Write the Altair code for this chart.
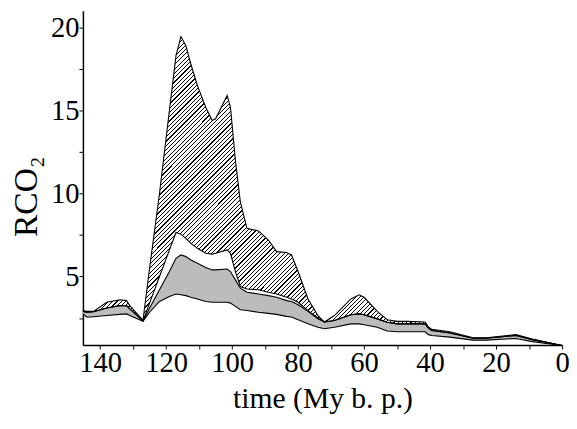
import altair as alt
import pandas as pd

# time (My b.p.)
times = [145.2, 144, 142, 138, 134, 132, 131, 127, 125, 122, 119, 117, 115.5, 114,
         112.5, 110.5, 108, 106, 105, 101.5, 100.5, 99, 97.5, 95.5, 92, 89, 86.5,
         83.5, 82, 80, 77, 74, 72, 69, 64, 61.5, 60, 56, 53, 50, 47, 41.5, 40.5,
         39.5, 34, 27, 23, 14, 9, 0]
# bottom of stippled band
base_line = [2.75, 2.55, 2.58, 2.65, 2.72, 2.75, 2.65, 2.3, 2.85, 3.5, 3.8, 3.95, 3.9, 3.85,
             3.75, 3.65, 3.5, 3.45, 3.45, 3.45, 3.4, 3.2, 3.0, 2.95, 2.85, 2.78, 2.72,
             2.6, 2.56, 2.4, 2.15, 1.95, 1.86, 1.95, 2.15, 2.15, 2.1, 1.95, 1.72, 1.67, 1.67, 1.67, 1.5,
             1.45, 1.35, 1.17, 1.17, 1.27, 1.08, 0.85]
# top of stippled band
stipple_top = [2.9, 2.85, 2.88, 3.1, 3.25, 3.25, 3.05, 2.33, 3.1, 4.2, 5.3, 6.1, 6.3, 6.2,
               6.0, 5.8, 5.55, 5.4, 5.4, 5.45, 5.3, 4.8, 4.3, 4.05, 3.95, 3.85, 3.75,
               3.55, 3.5, 3.3, 2.9, 2.45, 2.26, 2.35, 2.7, 2.75, 2.7, 2.45, 2.25, 2.15, 2.15, 2.15, 1.9,
               1.75, 1.6, 1.28, 1.28, 1.45, 1.2, 0.85]
# top of white band
white_top = [2.9, 2.85, 2.88, 3.1, 3.25, 3.25, 3.05, 2.33, 3.4, 5.0, 6.6, 7.65, 7.55, 7.3,
             7.0, 6.7, 6.4, 6.35, 6.4, 6.6, 6.4, 5.3, 4.4, 4.25, 4.2, 4.05, 3.95,
             3.75, 3.65, 3.45, 2.95, 2.5, 2.26, 2.35, 2.7, 2.75, 2.7, 2.45, 2.25, 2.15, 2.15, 2.15, 1.9,
             1.75, 1.6, 1.28, 1.28, 1.45, 1.2, 0.85]
# top of hatched band
hatch_top = [2.95, 2.9, 2.9, 3.45, 3.6, 3.55, 3.25, 2.36, 5.5, 10.0, 15.0, 18.3, 19.45, 18.9,
             17.8, 16.5, 15.2, 14.4, 14.5, 15.9, 15.2, 12.0, 9.5, 7.9, 7.75, 7.2, 6.5,
             6.45, 6.3, 5.3, 3.65, 2.65, 2.26, 2.65, 3.65, 3.9, 3.75, 2.9, 2.4, 2.3, 2.3, 2.26, 1.96,
             1.82, 1.67, 1.31, 1.31, 1.5, 1.23, 0.85]

x_ticks = list(range(0, 141, 10))
y_ticks = [2.5 * i for i in range(1, 9)]

df = pd.DataFrame({"time": times, "L0": base_line, "L1": stipple_top,
                   "L2": white_top, "L3": hatch_top})

FONT = "Liberation Serif"

x_axis = alt.Axis(values=x_ticks, labelExpr="datum.value % 20 == 0 ? datum.label : ''",
                  title="time (My b. p.)", titleFont=FONT, titleFontSize=30,
                  titleFontWeight="normal", titleColor="black", titlePadding=6,
                  labelFont=FONT, labelFontSize=29, labelColor="black", labelPadding=0,
                  labelFlush=False, labelOverlap=False, domainColor="black", domainWidth=1.5,
                  tickColor="black", tickSize=4, tickWidth=1, grid=False)
y_axis = alt.Axis(values=y_ticks, labelExpr="datum.value % 5 == 0 ? datum.label : ''",
                  title="RCO₂", titleFont=FONT, titleFontSize=34, titleY=188,
                  titleFontWeight="normal", titleColor="black", titlePadding=7,
                  labelFont=FONT, labelFontSize=29, labelColor="black", labelPadding=0,
                  labelFlush=False, labelOverlap=False, domainColor="black", domainWidth=1.5,
                  tickColor="black", tickSize=4, tickWidth=1, grid=False)

xs = alt.Scale(domain=[0, 145.2], reverse=True, nice=False, zero=False)
ys = alt.Scale(domain=[0.87, 21], nice=False, zero=False)

X = alt.X("time:Q", scale=xs, axis=x_axis)

def Y(field):
    return alt.Y(f"{field}:Q", scale=ys, axis=y_axis)

# diagonal hatch via hard-stop gradient
N = 185
f = 0.28
stops = []
for i in range(N):
    a = i / N
    b = (i + f) / N
    c = (i + 1) / N
    stops += [alt.GradientStop(color="black", offset=a),
              alt.GradientStop(color="black", offset=b),
              alt.GradientStop(color="white", offset=b),
              alt.GradientStop(color="white", offset=c)]
r = 313 / 486
k = (1 + r) / (1 + r * r)
hatch_fill = alt.LinearGradient(gradient="linear", stops=stops, x1=0, y1=0, x2=k, y2=k * r)

base = alt.Chart(df)
hatch = base.mark_area(fill=hatch_fill, opacity=1).encode(x=X, y=Y("L3"), y2="L2:Q")
stip = base.mark_area(fill="#bcbcbc", opacity=1).encode(x=X, y=Y("L1"), y2="L0:Q")
lines = [base.mark_line(color="black", strokeWidth=1.1).encode(x=X, y=Y(c))
         for c in ["L0", "L1", "L2", "L3"]]

chart = alt.layer(hatch, stip, *lines).properties(
    width=486, height=339,
    autosize=alt.AutoSizeParams(type="none"),
    padding={"left": 76, "top": 0, "right": 7, "bottom": 70},
).configure_view(stroke=None)

chart.save("out.html", embed_options={"renderer": "svg", "actions": False})
